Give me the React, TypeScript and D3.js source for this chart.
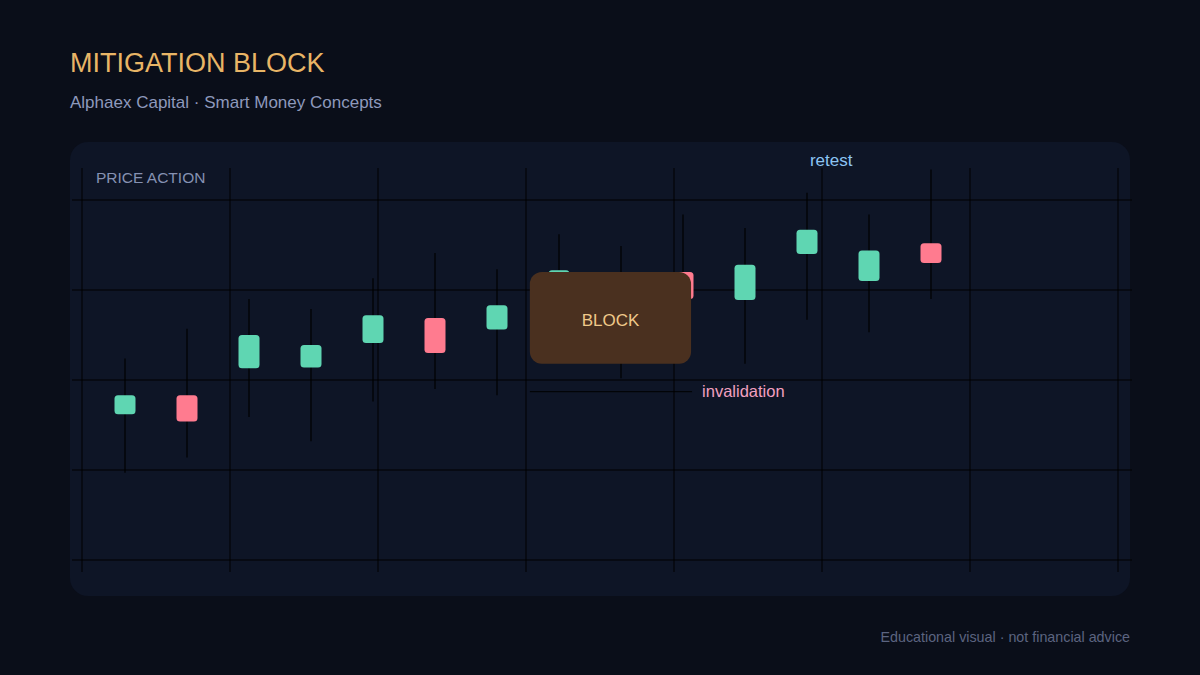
import React from "react";
import * as d3 from "d3";

// ---- data ----
const candleOpen = [116.2, 118.3, 121.3, 121.4, 124.1, 126.9, 125.6, 128.9, 130.0, 132.0, 128.9, 134.0, 131.0, 135.2];
const candleClose = [118.3, 115.4, 125.0, 123.9, 127.2, 123.0, 128.3, 132.2, 126.7, 129.0, 132.8, 136.7, 134.4, 133.0];
const candleHigh = [122.4, 125.7, 129.0, 127.9, 131.3, 134.1, 132.3, 136.2, 134.9, 138.4, 136.9, 140.8, 138.4, 143.4];
const candleLow = [109.7, 111.4, 115.9, 113.2, 117.6, 119.0, 118.3, 123.3, 120.2, 124.4, 121.8, 126.7, 125.3, 129.0];
const priceTicks = [100, 110, 120, 130, 140];
const gridColumns = [0, 1, 2, 3, 4, 5, 6, 7];
const blockZone = { startIdx: 6.53, endIdx: 9.13, top: 132.0, bottom: 121.8 };
const invalidationLevel = 118.7;
const retestIdx = 11.39;

const W = 1200;
const H = 675;
const FONT = "'Liberation Sans', Arial, Helvetica, sans-serif";

export default function App() {
  const y = d3.scaleLinear().domain([100, 140]).range([560, 200]);
  const x = d3.scaleLinear().domain([0, 13]).range([125, 931]);
  const gx = d3.scaleLinear().domain([0, 7]).range([82, 1118]);
  const bodyW = 21;

  const candles = candleOpen.map((o, i) => ({
    o,
    c: candleClose[i],
    h: candleHigh[i],
    l: candleLow[i],
    i,
  }));

  return (
    <svg width={W} height={H} style={{ position: "absolute", left: 0, top: 0, display: "block" }}>
      <rect x={0} y={0} width={W} height={H} fill="#0a0e19" />
      <text x={70} y={72} fill="#e8b566" fontFamily={FONT} fontSize={27}>MITIGATION BLOCK</text>
      <text x={70} y={108} fill="#8e99bc" fontFamily={FONT} fontSize={17}>Alphaex Capital · Smart Money Concepts</text>

      <rect x={70} y={142} width={1060} height={454} rx={18} fill="#0e1526" />

      {/* grid */}
      {priceTicks.map((t) => (
        <line key={"h" + t} x1={72} x2={1132} y1={y(t)} y2={y(t)} stroke="#000" strokeWidth={1} />
      ))}
      {gridColumns.map((k) => (
        <line key={"v" + k} x1={gx(k)} x2={gx(k)} y1={168} y2={572} stroke="#000" strokeWidth={1} />
      ))}

      <text x={96} y={183} fill="#8591b2" fontFamily={FONT} fontSize={15.5}>PRICE ACTION</text>

      {/* candles */}
      {candles.map((d) => {
        const up = d.c >= d.o;
        const top = y(Math.max(d.o, d.c));
        const bot = y(Math.min(d.o, d.c));
        return (
          <g key={d.i}>
            <line x1={x(d.i)} x2={x(d.i)} y1={y(d.h)} y2={y(d.l)} stroke="#000" strokeWidth={1.2} />
            <rect
              x={x(d.i) - bodyW / 2}
              y={top}
              width={bodyW}
              height={Math.max(1, bot - top)}
              rx={3.5}
              fill={up ? "#5fd6b2" : "#ff7b8f"}
            />
          </g>
        );
      })}

      {/* block */}
      <rect
        x={x(blockZone.startIdx)}
        y={y(blockZone.top)}
        width={x(blockZone.endIdx) - x(blockZone.startIdx)}
        height={y(blockZone.bottom) - y(blockZone.top)}
        rx={12}
        fill="#4a301f"
      />
      <text
        x={(x(blockZone.startIdx) + x(blockZone.endIdx)) / 2}
        y={(y(blockZone.top) + y(blockZone.bottom)) / 2 + 8}
        textAnchor="middle"
        fill="#f0c98a"
        fontFamily={FONT}
        fontSize={17}
      >
        BLOCK
      </text>

      <line
        x1={x(blockZone.startIdx)}
        x2={x(blockZone.endIdx) + 1}
        y1={y(invalidationLevel)}
        y2={y(invalidationLevel)}
        stroke="#000"
        strokeWidth={1}
      />
      <text x={x(blockZone.endIdx) + 11} y={y(invalidationLevel) + 5} fill="#f2a0c0" fontFamily={FONT} fontSize={16.5}>
        invalidation
      </text>

      <text x={x(retestIdx)} y={166} textAnchor="middle" fill="#8cc4f2" fontFamily={FONT} fontSize={17}>
        retest
      </text>

      <text x={1130} y={642} textAnchor="end" fill="#5c6480" fontFamily={FONT} fontSize={14.3}>
        Educational visual · not financial advice
      </text>
    </svg>
  );
}
